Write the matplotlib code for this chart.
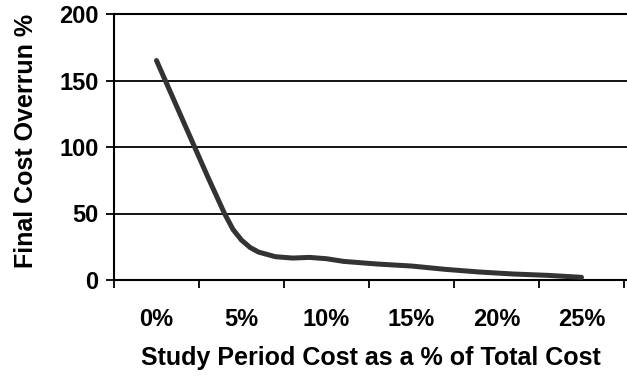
import matplotlib
matplotlib.use("Agg")
import matplotlib.pyplot as plt

# Data
study_cost_pct = [0, 1, 2, 3, 4, 4.5, 5, 5.5, 6, 7, 8, 9, 10, 11, 12, 13, 15, 17, 19, 21, 23, 25]
cost_overrun = [165, 136, 107, 78, 50, 38, 30, 24.5, 21, 17.5, 16.5, 17, 16, 14, 13, 12, 10.5, 8, 6, 4.5, 3.5, 2]
x_tick_values = [0, 5, 10, 15, 20, 25]
x_tick_labels = ["0%", "5%", "10%", "15%", "20%", "25%"]
y_tick_values = [0, 50, 100, 150, 200]

plt.rcParams['font.family'] = ['Liberation Sans', 'DejaVu Sans']
plt.rcParams['font.weight'] = 'bold'

FS = 17
FT = 18
fig = plt.figure(figsize=(6.27, 3.77), dpi=100)
W, H = 627, 377
left, right, top, bottom = 114, 627, 14, 280
ax = fig.add_axes([left / W, 1 - bottom / H, (right - left) / W, (bottom - top) / H])

ax.plot(study_cost_pct, cost_overrun, color='#333333', lw=3.6,
        solid_joinstyle='round', solid_capstyle='round', zorder=3, clip_on=False)

ax.set_xlim(-2.5, -2.5 + (right - left) / 17.0)
ax.set_ylim(0, 200)

ax.set_yticks(y_tick_values)
ax.set_yticklabels([str(v) for v in y_tick_values], fontsize=FS, fontweight='bold')
ax.yaxis.grid(True, color='black', lw=1.3)
ax.set_axisbelow(True)

ax.set_xticks(x_tick_values)
ax.set_xticklabels(x_tick_labels, fontsize=FS, fontweight='bold')
ax.set_xticks([v - 2.5 for v in x_tick_values] + [27.5], minor=True)
ax.tick_params(axis='x', which='major', length=0, pad=20)
ax.tick_params(axis='x', which='minor', length=6, width=1.3, direction='out')
ax.tick_params(axis='y', which='major', length=6, width=1.3, direction='out', pad=5)

for s in ['left', 'bottom', 'top']:
    ax.spines[s].set_linewidth(1.5)
    ax.spines[s].set_color('black')
ax.spines['right'].set_visible(False)

fig.text(371 / W, 1 - 358 / H, "Study Period Cost as a % of Total Cost",
         ha='center', va='center', fontsize=FT, fontweight='bold')
fig.text(26 / W, 1 - 141 / H, "Final Cost Overrun %", rotation=90,
         ha='center', va='center', fontsize=FT, fontweight='bold')

fig.savefig("out.png", dpi=100)
